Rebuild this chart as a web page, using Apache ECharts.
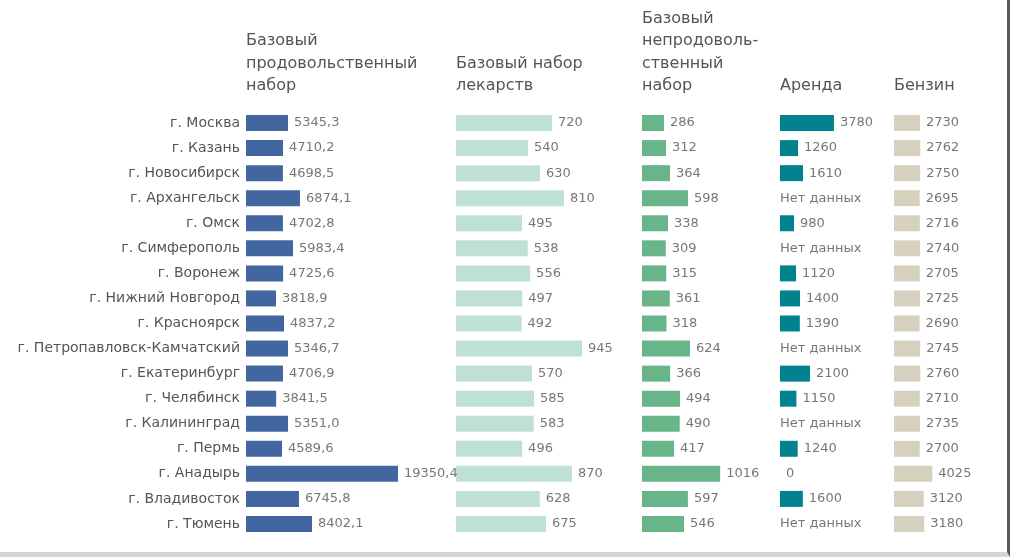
<!DOCTYPE html>
<html><head><meta charset="utf-8">
<script src="https://cdn.jsdelivr.net/npm/echarts@6/dist/echarts.min.js"></script>
<style>
html,body{margin:0;padding:0;background:#fff;}
#wrap{width:1007px;height:552px;border-right:3px solid #5a5a5a;border-bottom:5px solid #d4d4d4;}
#chart{width:1007px;height:552px;}
</style></head>
<body><div id="wrap"><div id="chart"></div></div>
<script>
const cities = ['г. Москва','г. Казань','г. Новосибирск','г. Архангельск','г. Омск','г. Симферополь','г. Воронеж','г. Нижний Новгород','г. Красноярск','г. Петропавловск-Камчатский','г. Екатеринбург','г. Челябинск','г. Калининград','г. Пермь','г. Анадырь','г. Владивосток','г. Тюмень'];
const headers = ['Базовый\nпродовольственный\nнабор','Базовый набор\nлекарств','Базовый\nнепродоволь-\nственный\nнабор','Аренда','Бензин'];
const food = [5345.3,4710.2,4698.5,6874.1,4702.8,5983.4,4725.6,3818.9,4837.2,5346.7,4706.9,3841.5,5351.0,4589.6,19350.4,6745.8,8402.1];
const medicine = [720,540,630,810,495,538,556,497,492,945,570,585,583,496,870,628,675];
const nonfood = [286,312,364,598,338,309,315,361,318,624,366,494,490,417,1016,597,546];
const rent = [3780,1260,1610,null,980,null,1120,1400,1390,null,2100,1150,null,1240,0,1600,null];
const petrol = [2730,2762,2750,2695,2716,2740,2705,2725,2690,2745,2760,2710,2735,2700,4025,3120,3180];

const cols = [
  {data: food, color:'#4267a0', left:246, width:157.1, max:20000, fmt:v=>v.toFixed(1).replace('.',',')},
  {data: medicine, color:'#bfe0d6', left:456, width:133.3, max:1000, fmt:v=>String(v)},
  {data: nonfood, color:'#68b58a', left:642, width:92.3, max:1200, fmt:v=>String(v)},
  {data: rent, color:'#00838f', left:780, width:57.1, max:4000, fmt:v=>String(v)},
  {data: petrol, color:'#d6d1bf', left:894, width:47.6, max:5000, fmt:v=>String(v)}
];
const TOP=110.5, H=426;
const FONT='"DejaVu Sans", sans-serif';
const grid=[], xAxis=[], yAxis=[], series=[], graphic=[];
cols.forEach((c,i)=>{
  grid.push({left:c.left, top:TOP, width:c.width, height:H, containLabel:false});
  xAxis.push({type:'value', gridIndex:i, min:0, max:c.max, show:false});
  yAxis.push({type:'category', gridIndex:i, data:cities, inverse:true, show:i===0,
    axisLine:{show:false}, axisTick:{show:false}, splitLine:{show:false},
    axisLabel:{color:'#555', fontSize:14, fontFamily:FONT, margin:6}});
  const items = c.data.map(v=>{
    if (v===null) return {value:0, itemStyle:{color:'rgba(0,0,0,0)'}, label:{formatter:'Нет данных', distance:0}};
    return {value:v};
  });
  series.push({type:'bar', xAxisIndex:i, yAxisIndex:i, data:items, barWidth:16,
    itemStyle:{color:c.color}, silent:true, animation:false,
    label:{show:true, position:'right', distance:6, color:'#777', fontSize:13, fontFamily:FONT,
      formatter:p=>c.fmt(p.value)}});
  graphic.push({type:'text', left:c.left, bottom:557-97.5-5,
    style:{text:headers[i], fill:'#555', font:'16px '+FONT, lineHeight:22.5, textVerticalAlign:'bottom'}});
});
const chart = echarts.init(document.getElementById('chart'));
chart.setOption({animation:false, grid, xAxis, yAxis, series, graphic});
</script></body></html>
